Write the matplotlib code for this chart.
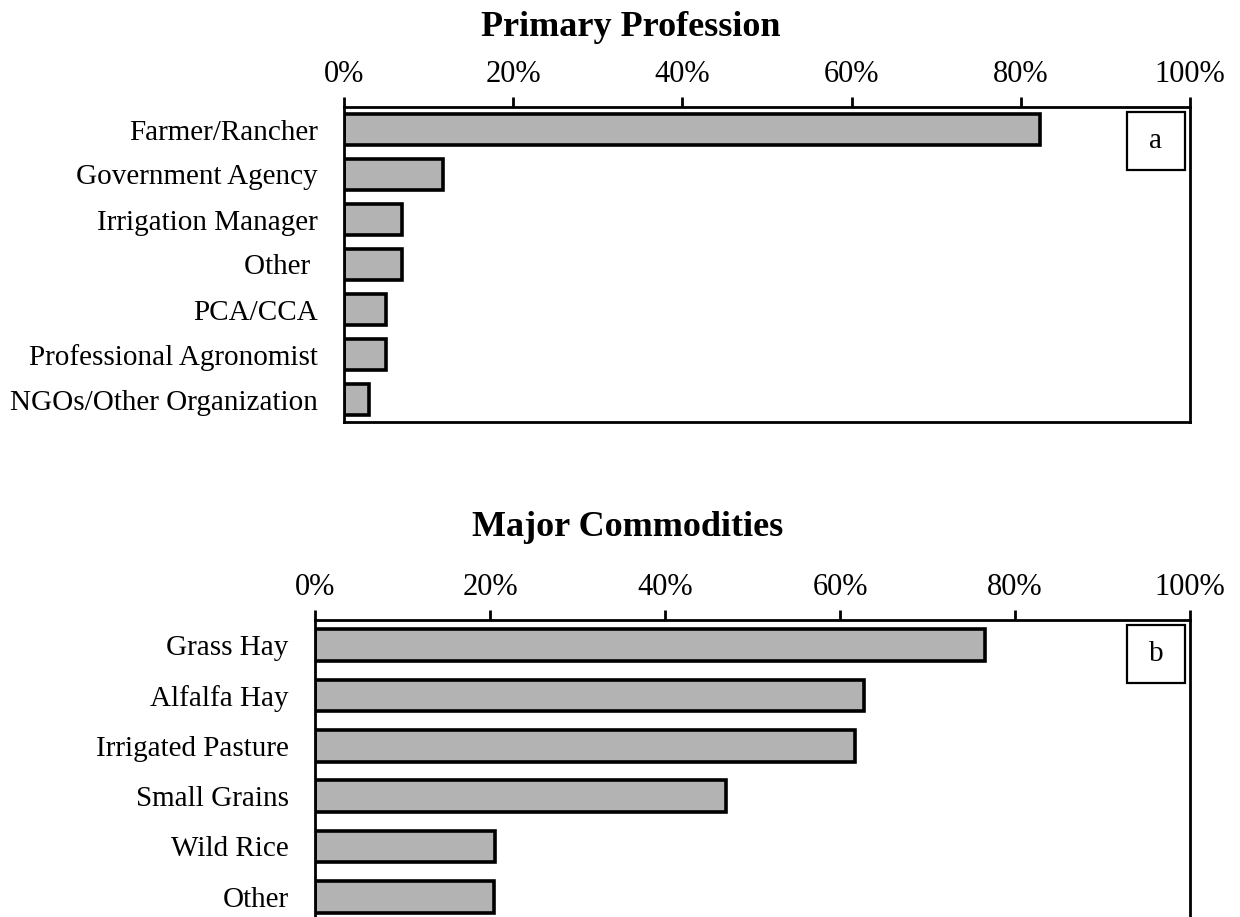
import matplotlib
matplotlib.use("Agg")
import matplotlib.pyplot as plt
from matplotlib.patches import Rectangle
from matplotlib.transforms import ScaledTranslation

# Survey responses, percent of respondents
profession_labels = ["Farmer/Rancher", "Government Agency", "Irrigation Manager", "Other ",
                     "PCA/CCA", "Professional Agronomist", "NGOs/Other Organization"]
profession_pct = [82.3, 11.7, 6.9, 6.9, 5.0, 5.0, 2.9]

commodity_labels = ["Grass Hay", "Alfalfa Hay", "Irrigated Pasture", "Small Grains",
                    "Wild Rice", "Other"]
commodity_pct = [76.6, 62.7, 61.7, 47.0, 20.6, 20.5]

x_ticks = [0, 20, 40, 60, 80, 100]
x_ticklabels = ["0%", "20%", "40%", "60%", "80%", "100%"]

plt.rcParams["font.family"] = ["Liberation Serif", "DejaVu Serif"]

BAR_COLOR = "#b3b3b3"


def draw_panel(ax, labels, values, bar_height, letter):
    ypos = list(range(len(labels)))
    ax.barh(ypos, values, height=bar_height, color=BAR_COLOR,
            edgecolor="black", linewidth=2.6)
    ax.set_xlim(0, 100)
    ax.set_ylim(len(labels) - 0.5, -0.5)
    ax.set_yticks(ypos)
    ax.set_yticklabels(labels, fontsize=21)
    ax.set_xticks(x_ticks)
    ax.set_xticklabels(x_ticklabels, fontsize=22)
    ax.xaxis.set_ticks_position("top")
    ax.xaxis.set_label_position("top")
    ax.tick_params(axis="x", direction="out", length=7, width=2, pad=6)
    ax.tick_params(axis="y", length=0, pad=19)
    for s in ax.spines.values():
        s.set_linewidth(2)

    # boxed panel letter in the upper right corner
    fig = ax.figure
    tr = fig.dpi_scale_trans + ScaledTranslation(1, 1, ax.transAxes)
    size, inset = 0.58, 0.05
    ax.add_patch(Rectangle((-inset - size, -inset - size), size, size, transform=tr,
                           facecolor="white", edgecolor="black", linewidth=1.6,
                           clip_on=False, zorder=5))
    ax.text(-inset - size / 2, -inset - size / 2, letter, transform=tr,
            ha="center", va="center", fontsize=21, zorder=6)


fig = plt.figure(figsize=(12.4, 9.17), dpi=100)

ax_top = fig.add_axes([344 / 1240, 1 - 422 / 917, 846 / 1240, 315 / 917])
draw_panel(ax_top, profession_labels, profession_pct, 0.7, "a")

ax_bot = fig.add_axes([315 / 1240, 1 - 922 / 917, 875 / 1240, 302 / 917])
draw_panel(ax_bot, commodity_labels, commodity_pct, 0.63, "b")

fig.text(631 / 1240, 1 - 28 / 917, "Primary Profession", ha="center", va="center",
         fontsize=26, fontweight="bold")
fig.text(628 / 1240, 1 - 528 / 917, "Major Commodities", ha="center", va="center",
         fontsize=26, fontweight="bold")

fig.savefig("out.png", dpi=100)
